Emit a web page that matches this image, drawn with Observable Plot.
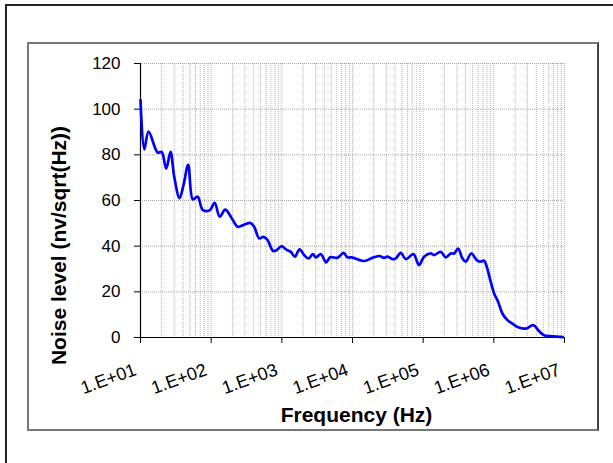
<!DOCTYPE html>
<html>
<head>
<meta charset="utf-8">
<script src="https://cdn.jsdelivr.net/npm/d3@7"></script>
<script src="https://cdn.jsdelivr.net/npm/@observablehq/plot@0.6"></script>
<style>
  html, body { margin: 0; padding: 0; background: #fff; }
  #wrap { position: relative; width: 613px; height: 463px; overflow: hidden; }
  #outer { position: absolute; left: 5px; top: 4px; width: 700px; height: 600px;
           border-top: 2px solid #222; border-left: 2px solid #222; box-sizing: border-box; }
  #inner { position: absolute; left: 27px; top: 42px; width: 572px; height: 389px;
           border: 2px solid #777; border-right-color: #444; box-sizing: border-box; }
  #chart { position: absolute; left: 0; top: 0; }
</style>
</head>
<body>
<div id="wrap">
  <div id="outer"></div>
  <div id="inner"></div>
  <div id="chart"></div>
</div>
<script>
// Frequency (Hz) and noise level (nV/sqrt(Hz))
const freq = [
  10, 11.3, 13.0, 17.5, 19.9, 23.1, 26.6, 30.0, 35.7, 40.6, 47.3, 55.1, 64.3, 76.4, 95.9,
  112, 132, 158, 190, 236, 263, 356, 406, 478, 551, 628, 753, 849, 991,
  1140, 1340, 1530, 1780, 2070, 2390, 2740, 3050, 3560, 4240, 4820, 6140, 7460, 8490, 9770,
  14600, 18200, 23800, 28000, 31300, 36800, 40900, 48200, 56800, 72900, 87500,
  103000, 128000, 143000, 177000, 209000, 245000, 274000, 312000, 360000, 401000, 479000,
  573000, 638000, 728000, 794000, 904000,
  1010000, 1150000, 1320000, 1560000, 1830000, 2160000, 2820000, 3630000, 4360000,
  5130000, 6380000, 8830000, 9440000
];
const noise = [
  104, 82.4, 90.2, 81, 81.3, 74, 81.3, 70.4, 61, 66.8, 75.6, 60.5, 61.7, 55.8, 55.8,
  59, 52.9, 56, 52.9, 48.5, 48.8, 50.2, 48.5, 43.4, 44.1, 42.7, 37.9, 38.3, 40,
  38.6, 37.5, 35.4, 38.6, 36.1, 34.6, 36.5, 35.1, 36.5, 32.9, 35.1, 34.9, 37.1, 35.1, 35.1,
  33.5, 34.6, 35.7, 34.9, 35.4, 34.3, 34.6, 37.1, 34.3, 36.5, 31.7,
  35.4, 36.8, 36.1, 37.5, 35.1, 36.8, 36.8, 38.9, 34.6, 33.2, 36.8,
  33.9, 33.2, 33.6, 31, 24.4,
  19.3, 15.6, 10.5, 7.6, 6.1, 4.6, 3.9, 5.4, 2.8,
  1.0, 0.6, 0.3, 0.2
];
const decades = [10, 100, 1000, 10000, 100000, 1000000, 10000000];
const decadeLabels = ["1.E+01", "1.E+02", "1.E+03", "1.E+04", "1.E+05", "1.E+06", "1.E+07"];
const yTicks = [0, 20, 40, 60, 80, 100, 120];
const xTitle = "Frequency (Hz)";
const yTitle = "Noise level (nv/sqrt(Hz))";

const data = freq.map((f, i) => ({f, v: noise[i]}));
const minorTicks = d3.scaleLog().domain([10, 1e7]).ticks();
const font = "'Liberation Sans', Arial, sans-serif";

const chart = Plot.plot({
  width: 613,
  height: 463,
  marginLeft: 140,
  marginRight: 49,
  marginTop: 63,
  marginBottom: 126,
  style: {fontFamily: font, background: "transparent", color: "#000", overflow: "visible"},
  x: {type: "log", domain: [10, 1e7], ticks: decades, tickFormat: () => "", tickSize: 6, label: null},
  y: {domain: [0, 120], ticks: yTicks, tickFormat: () => "", tickSize: 6, label: null},
  marks: [
    Plot.ruleX(minorTicks, {stroke: "#b4b4b4", strokeWidth: 1, strokeDasharray: "1,1"}),
    Plot.ruleY(yTicks.filter(d => d > 0), {stroke: "#a8a8a8", strokeWidth: 1, strokeDasharray: "1,1"}),
    Plot.ruleX([10], {stroke: "#000", strokeWidth: 1.2}),
    Plot.ruleY([0], {stroke: "#000", strokeWidth: 1.2}),
    Plot.line(data, {x: "f", y: "v", stroke: "#0000ff", strokeWidth: 2.7, curve: "catmull-rom"}),
    Plot.text(yTicks, {
      y: d => d, frameAnchor: "left", text: d => String(d),
      textAnchor: "end", dx: -20, fontSize: 17, fill: "#000"
    }),
    Plot.text(decades, {
      x: d => d, frameAnchor: "bottom", text: (d, i) => decadeLabels[i],
      rotate: -20, textAnchor: "end", lineAnchor: "bottom",
      dx: -3, dy: 37, fontSize: 18, fill: "#000"
    }),
    Plot.text([xTitle], {
      frameAnchor: "bottom", text: d => d, textAnchor: "middle", lineAnchor: "bottom",
      dx: 4, dy: 84, fontSize: 21, fontWeight: "bold", fill: "#000"
    }),
    Plot.text([yTitle], {
      frameAnchor: "left", text: d => d, textAnchor: "middle", lineAnchor: "bottom",
      rotate: -90, dx: -75, dy: 45, fontSize: 21, fontWeight: "bold", fill: "#000"
    })
  ]
});
document.getElementById("chart").appendChild(chart);
</script>
</body>
</html>
